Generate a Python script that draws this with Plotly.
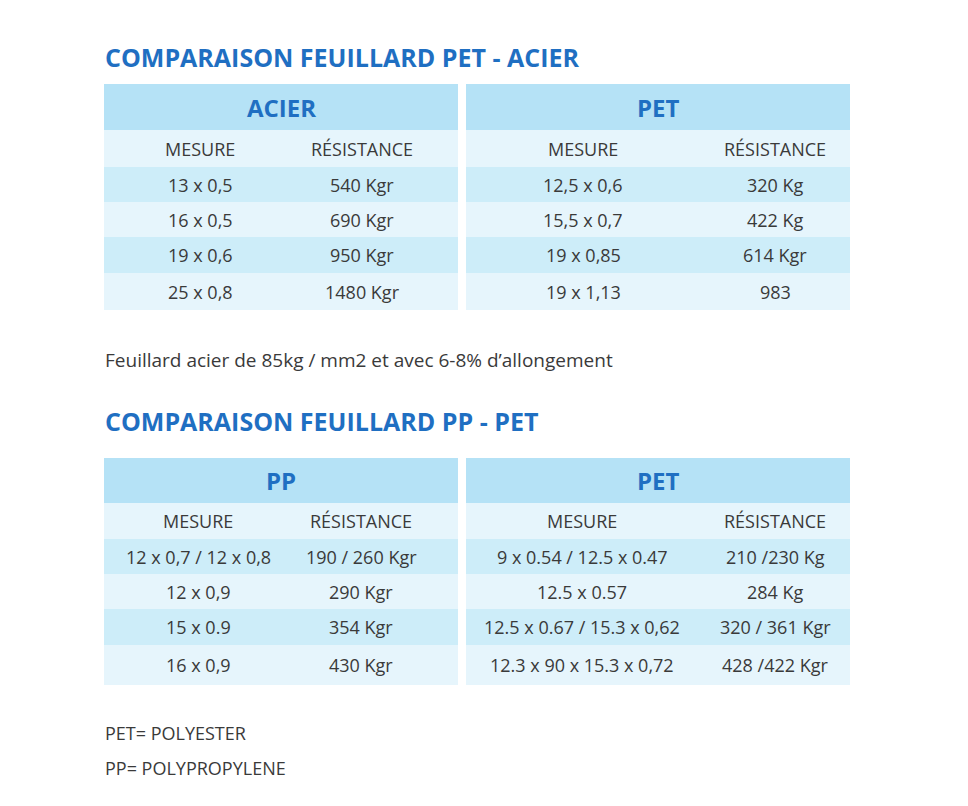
import plotly.graph_objects as go

W, H = 968, 806
OFF = 8  # page body margin
titles = ["COMPARAISON FEUILLARD PET - ACIER", "COMPARAISON FEUILLARD PP - PET"]
col_headers = ["MESURE", "RÉSISTANCE"]
acier_mesure = ["13 x 0,5", "16 x 0,5", "19 x 0,6", "25 x 0,8"]
acier_res = ["540 Kgr", "690 Kgr", "950 Kgr", "1480 Kgr"]
pet1_mesure = ["12,5 x 0,6", "15,5 x 0,7", "19 x 0,85", "19 x 1,13"]
pet1_res = ["320 Kg", "422 Kg", "614 Kgr", "983"]
pp_mesure = ["12 x 0,7 / 12 x 0,8", "12 x 0,9", "15 x 0.9", "16 x 0,9"]
pp_res = ["190 / 260 Kgr", "290 Kgr", "354 Kgr", "430 Kgr"]
pet2_mesure = ["9 x 0.54 / 12.5 x 0.47", "12.5 x 0.57", "12.5 x 0.67 / 15.3 x 0,62", "12.3 x 90 x 15.3 x 0,72"]
pet2_res = ["210 /230 Kg", "284 Kg", "320 / 361 Kgr", "428 /422 Kgr"]
note = "Feuillard acier de 85kg / mm2 et avec 6-8% d’allongement"
footer = ["PET= POLYESTER", "PP= POLYPROPYLENE"]

HEAD = "#b5e2f6"; MID = "#cdedf9"; LIGHT = "#e6f5fc"
BLUE = "#1f6fc2"; TXT = "#3a3a3a"
FONT = "Open Sans"
CS = 18

fig = go.Figure()
shapes, ann = [], []

def table(x0, x1, cx, rows_y, name, mes, res):
    fills = [HEAD, LIGHT, MID, LIGHT, MID, LIGHT]
    for i in range(len(rows_y) - 1):
        shapes.append(dict(type="rect", xref="x", yref="y", x0=x0, x1=x1,
                           y0=rows_y[i], y1=rows_y[i + 1], fillcolor=fills[i], line_width=0, layer="below"))
    mids = [(rows_y[i] + rows_y[i + 1]) / 2 for i in range(len(rows_y) - 1)]
    ann.append(dict(x=(x0 + x1) / 2, y=mids[0], text=f"<b>{name}</b>", showarrow=False,
                    font=dict(size=24, color=BLUE, family=FONT)))
    for c, h in zip(cx, col_headers):
        ann.append(dict(x=c, y=mids[1], text=h, showarrow=False, font=dict(size=CS, color=TXT, family=FONT)))
    for i, (m, r) in enumerate(zip(mes, res)):
        ann.append(dict(x=cx[0], y=mids[2 + i], text=m, showarrow=False, font=dict(size=CS, color=TXT, family=FONT)))
        ann.append(dict(x=cx[1], y=mids[2 + i], text=r, showarrow=False, font=dict(size=CS, color=TXT, family=FONT)))

r1 = [84, 130, 167, 202, 237, 273, 310]
r2 = [458, 503, 539, 574, 609, 645, 685]
table(104, 458, [200, 362], r1, "ACIER", acier_mesure, acier_res)
table(466, 850, [583, 775], r1, "PET", pet1_mesure, pet1_res)
table(104, 458, [198, 361], r2, "PP", pp_mesure, pp_res)
table(466, 850, [582, 775], r2, "PET", pet2_mesure, pet2_res)

for t, y in zip(titles, [57, 421]):
    ann.append(dict(x=103, y=y, text=f"<b>{t}</b>", showarrow=False, xanchor="left",
                    font=dict(size=25, color=BLUE, family=FONT)))
ann.append(dict(x=103, y=360, text=note, showarrow=False, xanchor="left", font=dict(size=19, color=TXT, family=FONT)))
for t, y in zip(footer, [733, 768]):
    ann.append(dict(x=103, y=y, text=t, showarrow=False, xanchor="left", font=dict(size=18, color=TXT, family=FONT)))

fig.update_layout(width=W, height=H, margin=dict(l=0, r=0, t=0, b=0),
                  paper_bgcolor="white", plot_bgcolor="white",
                  xaxis=dict(range=[OFF, W + OFF], visible=False, fixedrange=True),
                  yaxis=dict(range=[H + OFF, OFF], visible=False, fixedrange=True),
                  shapes=shapes, annotations=ann, showlegend=False)
fig.write_html("out.html")
